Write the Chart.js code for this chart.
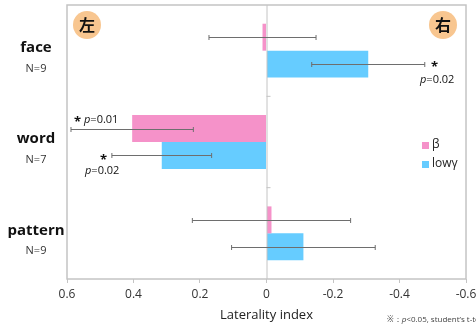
<!DOCTYPE html>
<html>
<head>
<meta charset="utf-8">
<script src="https://cdn.jsdelivr.net/npm/chart.js@4/dist/chart.umd.min.js"></script>
<style>
  html, body { margin: 0; padding: 0; background: #fff; }
  #wrap { width: 476px; height: 324px; position: relative; }
</style>
</head>
<body>
<div id="wrap"><canvas id="chart"></canvas></div>
<script>
// data
const categories = ['face', 'word', 'pattern'];
const subjects = ['N=9', 'N=7', 'N=9'];
const betaValues = [0.012, 0.404, -0.015];
const betaErrors = [0.161, 0.184, 0.238];
const gammaValues = [-0.306, 0.315, -0.111];
const gammaErrors = [0.170, 0.150, 0.216];
const xTicks = [0.6, 0.4, 0.2, 0, -0.2, -0.4, -0.6];

const PINK = '#f592c9';
const BLUE = '#66ccff';
const FRAME = '#c4c4c4';
const FONT = '"Open Sans", "Noto Sans", sans-serif';
const CJK = '"Noto Sans CJK JP", sans-serif';

// significance notes: star and p text positions
const notes = [
  { starX: 77, starY: 120, pX: 84, pY: 120, text: '0.01' },
  { starX: 103, starY: 158, pX: 85, pY: 171, text: '0.02' },
  { starX: 434, starY: 65, pX: 420, pY: 80, text: '0.02' }
];

const extras = {
  id: 'extras',
  afterDatasetsDraw(chart) {
    const { ctx, chartArea: a, scales } = chart;
    const x = scales.x, y = scales.y;
    ctx.save();

    // frame around plot
    ctx.strokeStyle = FRAME;
    ctx.lineWidth = 1.5;
    ctx.strokeRect(a.left, a.top, a.right - a.left, a.bottom - a.top);

    // zero line with small category ticks
    const x0 = x.getPixelForValue(0);
    ctx.lineWidth = 1;
    ctx.beginPath();
    ctx.moveTo(x0 + 0.5, a.top);
    ctx.lineTo(x0 + 0.5, a.bottom);
    for (let i = 1; i < categories.length; i++) {
      const yb = (y.getPixelForValue(i - 1) + y.getPixelForValue(i)) / 2;
      ctx.moveTo(x0, yb);
      ctx.lineTo(x0 + 4, yb);
    }
    ctx.stroke();

    // error bars
    const errs = [betaErrors, gammaErrors];
    ctx.strokeStyle = '#6e6e6e';
    ctx.lineWidth = 1;
    chart.data.datasets.forEach((ds, di) => {
      const meta = chart.getDatasetMeta(di);
      meta.data.forEach((bar, i) => {
        const v = ds.data[i];
        const e = errs[di][i];
        const l = x.getPixelForValue(v + e);
        const r = x.getPixelForValue(v - e);
        const yy = Math.round(bar.y) + 0.5;
        ctx.beginPath();
        ctx.moveTo(l, yy); ctx.lineTo(r, yy);
        ctx.moveTo(l, yy - 2.5); ctx.lineTo(l, yy + 2.5);
        ctx.moveTo(r, yy - 2.5); ctx.lineTo(r, yy + 2.5);
        ctx.stroke();
      });
    });

    // category labels
    ctx.textAlign = 'center';
    ctx.textBaseline = 'middle';
    categories.forEach((c, i) => {
      const cy = y.getPixelForValue(i);
      ctx.fillStyle = '#111';
      ctx.font = 'bold 15px ' + FONT;
      ctx.fillText(c, 36, cy - 3);
      ctx.font = '11px ' + FONT;
      ctx.fillStyle = '#333';
      ctx.fillText(subjects[i], 36, cy + 18);
    });

    // 左 / 右 badges
    [['左', a.left + 20], ['右', a.right - 23]].forEach(([t, cx]) => {
      ctx.fillStyle = '#f8c690';
      ctx.beginPath();
      ctx.arc(cx, a.top + 20, 14, 0, Math.PI * 2);
      ctx.fill();
      ctx.fillStyle = '#111';
      ctx.font = 'bold 16px ' + CJK;
      ctx.fillText(t, cx, a.top + 20);
    });

    // significance notes
    notes.forEach(n => {
      ctx.textAlign = 'left';
      ctx.fillStyle = '#111';
      ctx.font = 'bold 13px ' + FONT;
      ctx.fillText('*', n.starX - 3, n.starY + 2);
      ctx.font = 'italic 11px ' + FONT;
      ctx.fillText('p', n.pX, n.pY);
      const pw = ctx.measureText('p').width;
      ctx.font = '11px ' + FONT;
      ctx.fillText('=' + n.text, n.pX + pw, n.pY);
    });

    // legend
    chart.data.datasets.forEach((ds, di) => {
      const ly = 145 + di * 19;
      ctx.fillStyle = ds.backgroundColor;
      ctx.fillRect(422, ly - 3, 7, 7);
      ctx.fillStyle = '#222';
      ctx.font = '12px ' + FONT;
      ctx.textAlign = 'left';
      ctx.fillText(ds.label, 432, ly);
    });

    // footnote (runs off the right edge, as in the source)
    ctx.fillStyle = '#444';
    ctx.textAlign = 'left';
    ctx.font = '8px ' + FONT;
    ctx.fillText('※：', 387, 320);
    let fx = 387 + ctx.measureText('※：').width;
    ctx.font = 'italic 8px ' + FONT;
    ctx.fillText('p', fx, 320);
    fx += ctx.measureText('p').width;
    ctx.font = '8px ' + FONT;
    ctx.fillText('<0.05, student\u2019s t-test', fx, 320);

    ctx.restore();
  }
};

new Chart(document.getElementById('chart'), {
  type: 'bar',
  data: {
    labels: categories,
    datasets: [
      { label: 'β', data: betaValues, backgroundColor: PINK },
      { label: 'lowγ', data: gammaValues, backgroundColor: BLUE }
    ]
  },
  options: {
    indexAxis: 'y',
    responsive: true,
    maintainAspectRatio: false,
    animation: false,
    layout: { padding: { top: 5, right: 10, left: 0, bottom: 0 } },
    datasets: { bar: { categoryPercentage: 0.59, barPercentage: 1 } },
    scales: {
      x: {
        reverse: true,
        min: -0.6,
        max: 0.6,
        afterFit: s => { s.height = 45; s.paddingRight = 0; s.paddingLeft = 0; },
        afterBuildTicks: s => { s.ticks = xTicks.map(v => ({ value: v })); },
        ticks: {
          color: '#333',
          font: { size: 12, family: FONT },
          padding: 4,
          callback: v => String(v)
        },
        grid: {
          display: true,
          drawOnChartArea: false,
          drawTicks: true,
          tickLength: 4,
          color: FRAME
        },
        border: { display: false },
        title: {
          display: true,
          text: 'Laterality index',
          color: '#222',
          font: { size: 13, family: FONT },
          padding: { top: 0, bottom: 1 }
        }
      },
      y: {
        afterFit: s => { s.width = 67; },
        ticks: { display: false },
        grid: { display: false },
        border: { display: false }
      }
    },
    plugins: {
      legend: { display: false },
      tooltip: { enabled: false }
    }
  },
  plugins: [extras]
});
</script>
</body>
</html>
